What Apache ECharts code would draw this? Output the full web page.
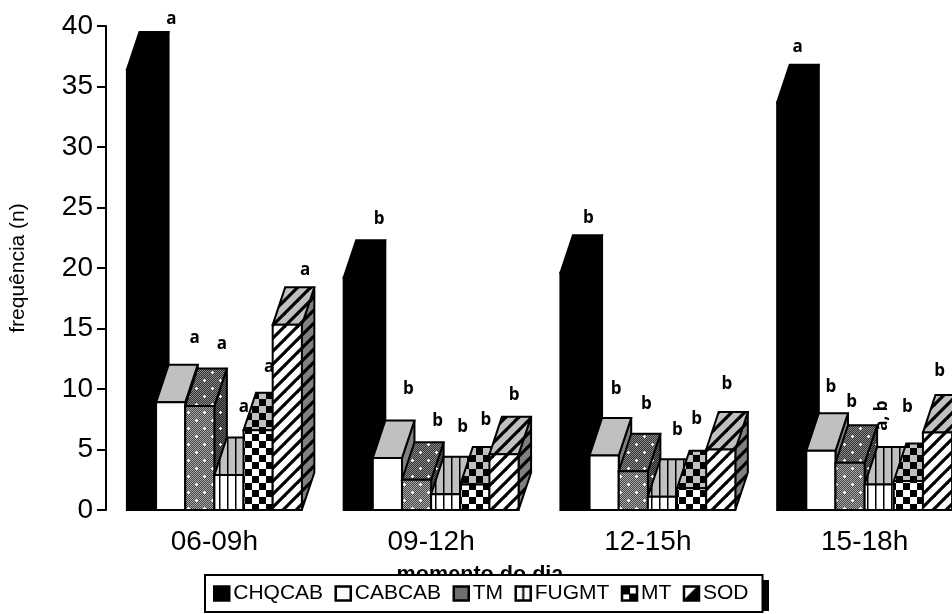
<!DOCTYPE html>
<html><head><meta charset="utf-8">
<style>html,body{margin:0;padding:0;background:#fff}#c{width:952px;height:614px}</style>
<script src="https://cdn.jsdelivr.net/npm/echarts@6/dist/echarts.min.js"></script>
</head><body><div id="c"></div>
<script>
const categories = ['06-09h','09-12h','12-15h','15-18h'];
const seriesNames = ['CHQCAB','CABCAB','TM','FUGMT','MT','SOD'];
const CHQCAB = [36.4,19.2,19.6,33.7];
const CABCAB = [8.9,4.3,4.5,4.9];
const TM = [8.6,2.5,3.2,3.9];
const FUGMT = [2.9,1.3,1.1,2.1];
const MT = [6.6,2.1,1.8,2.4];
const SOD = [15.3,4.6,5.0,6.4];
const seriesValues = [CHQCAB,CABCAB,TM,FUGMT,MT,SOD];
const letters = [
  ['a','b','b','a'],['a','b','b','b'],['a','b','b','b'],
  ['a','b','b','a, b'],['a','b','b','b'],['a','b','b','b']
];
const yTicks = {min:0,max:40,interval:5};

// --- layout (pixels), separate from the data ---
const DX = 12.5, DY = -37.5;
const BAR_SHARE = 0.1345;
// letter placement relative to the middle of the bar's front top edge; indexed [group][series]
const nudge = [
  [[30,-50],[24,-64],[22,-62],[15,-68],[11,-63],[18,-55]],
  [[21,-59],[21,-69],[21,-59],[17,-67],[11,-64],[10,-59]],
  [[13.5,-55],[12,-66],[13,-67],[15,-67],[5,-69],[6,-65]],
  [[6,-55],[10,-64],[1.5,-61],[3,-69],[-1,-74],[2,-61]]
];

function tile(w,h,paint){
  const c=document.createElement('canvas');c.width=w;c.height=h;
  paint(c.getContext('2d'),w,h);
  return {image:c,repeat:'repeat'};
}
function dots(fg,bg){return tile(16,16,(g,w,h)=>{
  for(let y=0;y<h;y++)for(let x=0;x<w;x++){g.fillStyle=(x+y)%2?fg:bg;g.fillRect(x,y,1,1);}
  g.fillStyle='#fff';
  [[4,4],[12,12]].forEach(([x,y])=>{g.fillRect(x-1,y,3,1);g.fillRect(x,y-1,1,3);});
});}
function vstripes(bg){return tile(8,8,(g,w,h)=>{
  g.fillStyle=bg;g.fillRect(0,0,w,h);g.fillStyle='#000';g.fillRect(3,0,1.5,h);
});}
function checks(bg){return tile(14,14,(g,w,h)=>{
  g.fillStyle=bg;g.fillRect(0,0,w,h);g.fillStyle='#000';
  g.fillRect(0,0,7,7);g.fillRect(7,7,7,7);
});}
function diag(bg){return tile(13,13,(g,w,h)=>{
  g.fillStyle=bg;g.fillRect(0,0,w,h);g.strokeStyle='#000';g.lineWidth=3.2;
  [[-13,13,13,-13],[0,13,13,0],[0,26,26,0]].forEach(([a,b,c,d])=>{g.beginPath();g.moveTo(a,b);g.lineTo(c,d);g.stroke();});
});}
const faces = [
  {front:'#000',top:'#000',side:'#000'},
  {front:'#fff',top:'#c0c0c0',side:'#808080'},
  {front:dots('#444','#aaa'),top:dots('#333','#888'),side:dots('#222','#666')},
  {front:vstripes('#fff'),top:vstripes('#c0c0c0'),side:vstripes('#808080')},
  {front:checks('#fff'),top:checks('#c0c0c0'),side:checks('#808080')},
  {front:diag('#fff'),top:diag('#c0c0c0'),side:diag('#808080')}
];
// small swatches for the legend
const swatches = [
  '#000','#fff',
  tile(15,15,(g,w,h)=>{for(let y=0;y<h;y++)for(let x=0;x<w;x++){g.fillStyle=(x+y)%2?'#333':'#aaa';g.fillRect(x,y,1,1);}}),
  tile(15,15,(g,w,h)=>{g.fillStyle='#fff';g.fillRect(0,0,w,h);g.fillStyle='#000';g.fillRect(6.5,0,2,h);}),
  tile(15,15,(g,w,h)=>{g.fillStyle='#000';g.fillRect(0,0,w,h);g.fillStyle='#fff';g.fillRect(8,0,7,7);g.fillRect(0,8,7,7);}),
  tile(15,15,(g,w,h)=>{g.fillStyle='#000';g.fillRect(0,0,w,h);g.fillStyle='#fff';g.beginPath();g.moveTo(0,0);g.lineTo(13,0);g.lineTo(0,13);g.fill();})
];

function renderBar(si){
  return function(params,api){
    const g=api.value(0), v=api.value(1);
    const band=api.size([1,0])[0], w=band*BAR_SHARE;
    const base=api.coord([g,0]), top=api.coord([g,v]);
    const x0=base[0]+(si-3)*w, x1=x0+w, y0=base[1], y1=top[1];
    const st=f=>({fill:f,stroke:'#000',lineWidth:2,lineJoin:'miter',miterLimit:2});
    const poly=(pts,f)=>({type:'polygon',shape:{points:pts},style:st(f)});
    const rot=letters[si][g].length>1;
    const n=nudge[g][si];
    return {type:'group',children:[
      poly([[x1,y1],[x1+DX,y1+DY],[x1+DX,y0+DY],[x1,y0]],faces[si].side),
      poly([[x0,y1],[x0+DX,y1+DY],[x1+DX,y1+DY],[x1,y1]],faces[si].top),
      poly([[x0,y0],[x0,y1],[x1,y1],[x1,y0]],faces[si].front),
      {type:'text',x:(x0+x1)/2+n[0],y:y1+n[1],rotation:rot?Math.PI/2:0,z2:50,
       style:{text:letters[si][g],fill:'#000',font:'bold 17px "Open Sans"',align:'center',verticalAlign:'middle'}}
    ]};
  };
}

const chart=echarts.init(document.getElementById('c'),null,{renderer:'canvas'});
chart.setOption({
  animation:false,
  backgroundColor:'#fff',
  textStyle:{fontFamily:'"Liberation Sans"',color:'#000'},
  grid:{left:106,top:26,width:867,height:484,containLabel:false,outerBoundsMode:'none'},
  xAxis:{type:'category',data:categories,
    axisLine:{show:false},axisTick:{show:false},
    axisLabel:{fontSize:28,color:'#000',margin:18,fontFamily:'"Liberation Sans"'},
    name:'momento do dia',nameLocation:'middle',nameGap:54,nameMoveOverlap:false,
    nameTextStyle:{fontSize:21.6,fontWeight:'bold',color:'#000',padding:[0,119,0,0],fontFamily:'"Liberation Sans"'}},
  yAxis:{type:'value',min:yTicks.min,max:yTicks.max,interval:yTicks.interval,
    axisLine:{show:true,lineStyle:{color:'#000',width:2}},
    axisTick:{show:true,length:9,lineStyle:{color:'#000',width:2}},
    splitLine:{show:false},
    axisLabel:{fontSize:28,color:'#000',margin:13,fontFamily:'"Liberation Sans"'},
    name:'frequência (n)',nameLocation:'middle',nameGap:77,nameRotate:90,nameMoveOverlap:false,
    nameTextStyle:{fontSize:21,color:'#000',fontFamily:'"Liberation Sans"'}},
  legend:{show:true,left:205,top:575,orient:'horizontal',
    backgroundColor:'#fff',borderColor:'#000',borderWidth:2,
    padding:[8,14,8,8],itemGap:11.4,itemWidth:15,itemHeight:14,
    textStyle:{fontSize:21,color:'#000',fontFamily:'"Liberation Sans"',padding:[0,0,0,-1]},
    data:seriesNames.map((n,i)=>({name:n,icon:'rect',
      itemStyle:{color:swatches[i],borderColor:'#000',borderWidth:2.5}}))},
  graphic:[{type:'rect',z:3,silent:true,shape:{x:762,y:580,width:7,height:31},style:{fill:'#000'}}],
  series:seriesNames.map((n,si)=>({
    type:'custom',name:n,coordinateSystem:'cartesian2d',clip:false,
    encode:{x:0,y:1},
    itemStyle:{color:faces[si].front},
    renderItem:renderBar(si),
    data:seriesValues[si].map((v,g)=>[g,v])
  }))
});
</script></body></html>
